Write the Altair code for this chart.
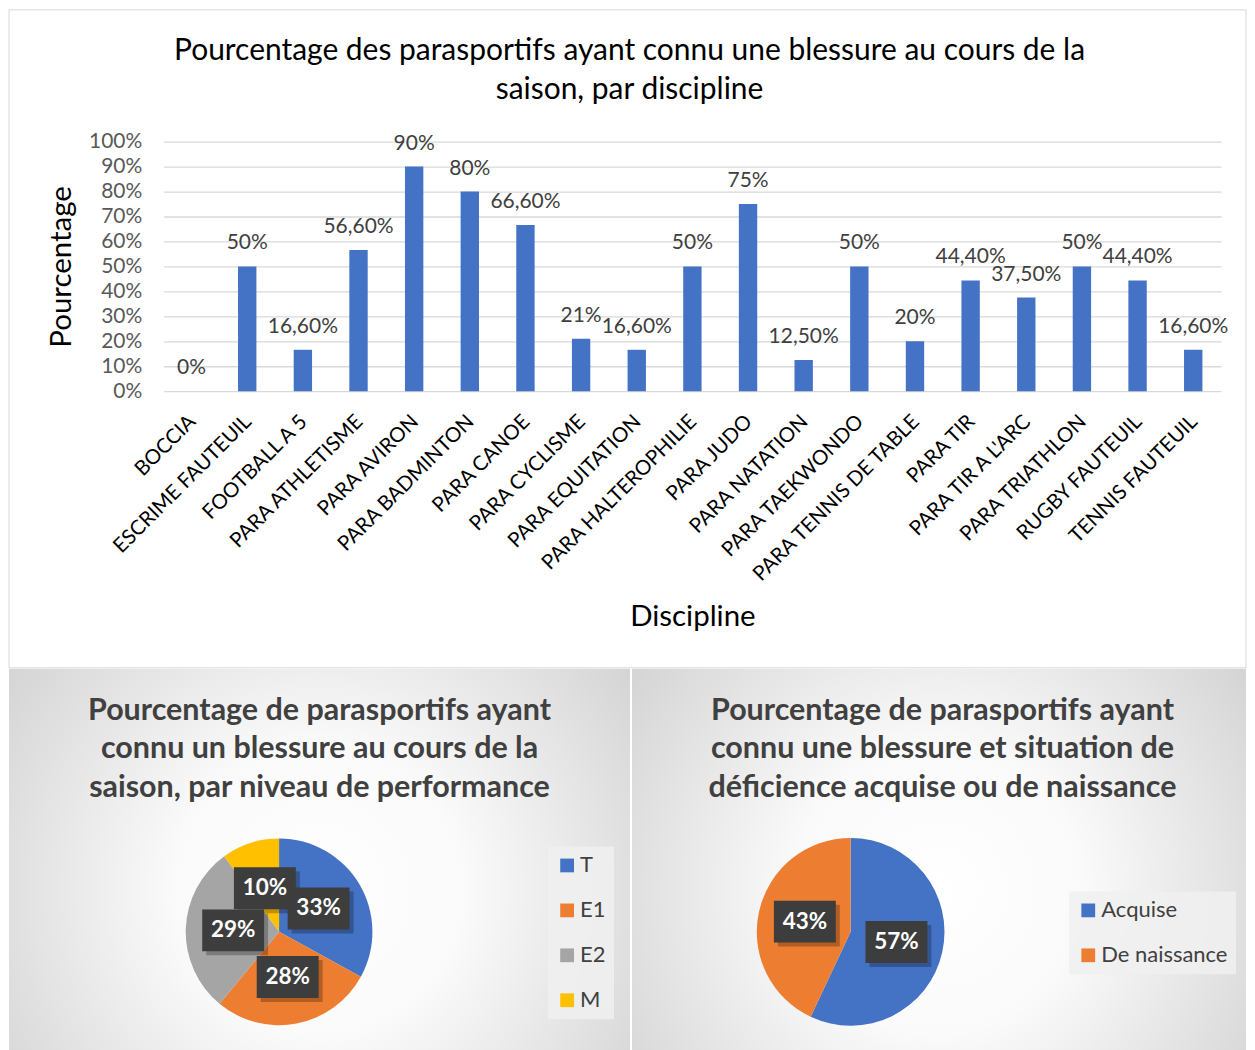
import altair as alt
import pandas as pd

FONT = "Lato"

# ---------------- data ----------------
disciplines = ["BOCCIA", "ESCRIME FAUTEUIL", "FOOTBALL A 5", "PARA ATHLETISME", "PARA AVIRON",
               "PARA BADMINTON", "PARA CANOE", "PARA CYCLISME", "PARA EQUITATION",
               "PARA HALTEROPHILIE", "PARA JUDO", "PARA NATATION", "PARA TAEKWONDO",
               "PARA TENNIS DE TABLE", "PARA TIR", "PARA TIR A L'ARC", "PARA TRIATHLON",
               "RUGBY FAUTEUIL", "TENNIS FAUTEUIL"]
pct_blesses = [0, 50, 16.6, 56.6, 90, 80, 66.6, 21, 16.6, 50, 75, 12.5, 50, 20, 44.4, 37.5, 50, 44.4, 16.6]

niveaux = ["T", "E1", "E2", "M"]
pct_niveaux = [33, 28, 29, 10]
couleurs_niveaux = ["#4472C4", "#ED7D31", "#A5A5A5", "#FFC000"]

deficiences = ["Acquise", "De naissance"]
pct_deficiences = [57, 43]
couleurs_def = ["#4472C4", "#ED7D31"]

titre_barres = "Pourcentage des parasportifs ayant connu une blessure au cours de la\nsaison, par discipline"
titre_niveau = "Pourcentage de parasportifs ayant\nconnu un blessure au cours de la\nsaison, par niveau de performance"
titre_def = "Pourcentage de parasportifs ayant\nconnu une blessure et situation de\ndéficience acquise ou de naissance"


def fr_pct(v):
    if float(v).is_integer():
        return f"{int(v)}%"
    return f"{v:.2f}".replace(".", ",") + "%"


bar_df = pd.DataFrame({
    "discipline": disciplines,
    "pct": [v / 100 for v in pct_blesses],
    "label": [fr_pct(v) for v in pct_blesses],
})
one = pd.DataFrame({"k": [0]})

# ---------------- top bar chart ----------------
PW, PH = 1059, 250
LEFT = 155  # distance from panel left edge to the plot area

border = alt.Chart(one).mark_rect(fillOpacity=0, stroke="#d9d9d9", strokeWidth=1).encode(
    x=alt.value(-LEFT), x2=alt.value(1084), y=alt.value(-132), y2=alt.value(527)
)

xenc = alt.X(
    "discipline:N", sort=disciplines,
    scale=alt.Scale(paddingInner=0.67, paddingOuter=0.335),
    axis=alt.Axis(title="Discipline", labelAngle=-45, labelFont=FONT, labelFontSize=20.5,
                  labelColor="#000000", ticks=False, domain=False, labelPadding=20,
                  labelOffset=-6, grid=False, labelLimit=0, titleFont=FONT, titleFontSize=29.5,
                  titleFontWeight="normal", titleColor="#000000", titlePadding=16),
)
yenc = alt.Y(
    "pct:Q", scale=alt.Scale(domain=[0, 1], nice=False),
    axis=alt.Axis(title="Pourcentage", format="%", tickCount=10, labelFont=FONT,
                  labelFontSize=21, labelColor="#595959", ticks=False, tickSize=0, domain=False,
                  labelPadding=22, gridColor="#d9d9d9", gridWidth=1.3, titleFont=FONT,
                  titleFontSize=29.5, titleFontWeight="normal", titleColor="#000000",
                  titlePadding=12),
)

bars = alt.Chart(bar_df).mark_bar(color="#4472C4").encode(x=xenc, y=yenc)
bar_labels = alt.Chart(bar_df).mark_text(dy=-23, font=FONT, fontSize=21, color="#404040").encode(
    x=alt.X("discipline:N", sort=disciplines), y="pct:Q", text="label:N"
)
top_title = alt.Chart(one).mark_text(
    font=FONT, fontSize=30, color="#000000", lineBreak="\n", lineHeight=39,
    align="center", baseline="middle"
).encode(x=alt.value(466.5), y=alt.value(-91), text=alt.value(titre_barres))

top = alt.layer(border, bars, bar_labels, top_title).properties(width=PW, height=PH)


# ---------------- pies ----------------
def pie(cats, vals, colors, title, x0, W, H, cx, cy, r, lr, lgx, lgy, tx):
    df = pd.DataFrame({"cat": cats, "pct": vals, "idx": list(range(len(cats)))})
    bg = alt.Chart(one).mark_rect(
        color={"gradient": "radial", "x1": 0.5, "y1": 0.55, "r1": 0, "x2": 0.5, "y2": 0.55, "r2": 0.78,
               "stops": [{"offset": 0, "color": "#ffffff"}, {"offset": 0.3, "color": "#fafafa"},
                         {"offset": 1, "color": "#c4c4c4"}]}
    ).encode(x=alt.value(x0), x2=alt.value(x0 + W), y=alt.value(0), y2=alt.value(H))

    arcs = alt.Chart(df).mark_arc(outerRadius=r).encode(
        theta=alt.Theta("pct:Q", stack=True),
        order=alt.Order("idx:Q"),
        color=alt.Color("cat:N", sort=cats, scale=alt.Scale(domain=cats, range=colors),
                        legend=alt.Legend(orient="none", legendX=lgx, legendY=lgy, title=None,
                                          symbolType="square", symbolSize=190, symbolStrokeWidth=0,
                                          labelFont=FONT, labelFontSize=22, labelColor="#404040",
                                          rowPadding=23, padding=8, labelOffset=2,
                                          fillColor="rgba(240,240,240,0.85)", labelLimit=0)),
        x=alt.value(cx), y=alt.value(cy),
    )

    base = alt.Chart(df).transform_window(
        cum="sum(pct)", sort=[alt.SortField("idx")], frame=[None, 0]
    ).transform_calculate(
        mid="(datum.cum - datum.pct / 2) / 100 * 2 * PI",
        lx=f"{cx} + {lr} * sin(datum.mid)",
        ly=f"{cy} - {lr} * cos(datum.mid)",
        bx0="datum.lx - 31", bx1="datum.lx + 31", by0="datum.ly - 21", by1="datum.ly + 21",
        sx0="datum.lx - 27", sx1="datum.lx + 35", sy0="datum.ly - 17", sy1="datum.ly + 25",
        lab="datum.pct + '%'",
    )
    shadow = base.mark_rect(color="#000000", opacity=0.25).encode(
        x=alt.X("sx0:Q", scale=None), x2="sx1:Q", y=alt.Y("sy0:Q", scale=None), y2="sy1:Q"
    )
    box = base.mark_rect(color="#3d3d3d").encode(
        x=alt.X("bx0:Q", scale=None), x2="bx1:Q", y=alt.Y("by0:Q", scale=None), y2="by1:Q"
    )
    txt = base.mark_text(font=FONT, fontSize=22.5, fontWeight="bold", color="#ffffff").encode(
        x=alt.X("lx:Q", scale=None), y=alt.Y("ly:Q", scale=None), text="lab:N"
    )
    ttl = alt.Chart(one).mark_text(
        font=FONT, fontSize=30.5, fontWeight="bold", color="#404040", lineBreak="\n",
        lineHeight=38.5, align="center", baseline="middle"
    ).encode(x=alt.value(tx), y=alt.value(42), text=alt.value(title))

    return alt.layer(bg, arcs, shadow, box, txt, ttl).properties(width=x0 + W, height=H)


# left panel: its origin is aligned with the bar chart's plot area, so it starts at -LEFT
p1 = pie(niveaux, pct_niveaux, couleurs_niveaux, titre_niveau, -LEFT, 622, 382,
         115.5, 263.5, 93.5, 46, 385, 178, 156)
p2 = pie(deficiences, pct_deficiences, couleurs_def, titre_def, 0, 615, 382,
         219, 263.5, 94, 47, 438, 223, 311)

bottom = alt.hconcat(p1, p2, spacing=2).resolve_scale(color="independent", theta="independent")

chart = alt.vconcat(top, bottom, spacing=0).properties(padding=0).configure_view(strokeWidth=0)

chart.save("out.html", embed_options={"renderer": "svg", "actions": False})
